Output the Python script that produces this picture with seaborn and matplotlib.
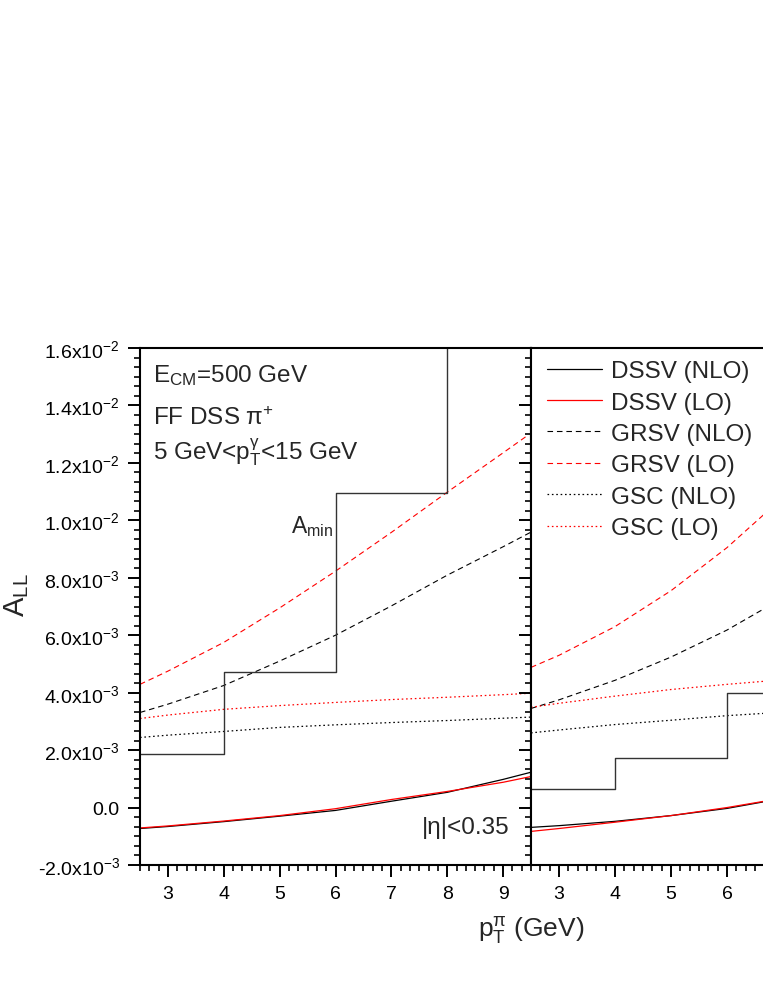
import numpy as np
import seaborn as sns
import matplotlib
matplotlib.use("Agg")
import matplotlib.pyplot as plt
from matplotlib.ticker import FixedLocator, AutoMinorLocator, FuncFormatter

# ---- data (units of 1e-3) ----
x_left = [2.5, 3, 4, 5, 6, 7, 8, 9, 9.5]
dssv_nlo_left = [-0.73, -0.66, -0.49, -0.30, -0.10, 0.22, 0.53, 0.98, 1.23]
dssv_lo_left = [-0.71, -0.64, -0.47, -0.28, -0.04, 0.28, 0.56, 0.88, 1.08]
grsv_nlo_left = [3.31, 3.60, 4.25, 5.10, 6.00, 7.02, 8.09, 9.08, 9.59]
grsv_lo_left = [4.29, 4.75, 5.75, 6.95, 8.23, 9.58, 10.98, 12.35, 13.04]
gsc_nlo_left = [2.44, 2.52, 2.65, 2.79, 2.88, 2.96, 3.03, 3.11, 3.15]
gsc_lo_left = [3.10, 3.22, 3.42, 3.55, 3.66, 3.76, 3.84, 3.93, 3.98]

x_right = [2.5, 3, 4, 5, 6, 7]
dssv_nlo_right = [-0.69, -0.63, -0.48, -0.28, -0.03, 0.32]
dssv_lo_right = [-0.83, -0.73, -0.51, -0.28, 0.00, 0.33]
grsv_nlo_right = [3.45, 3.75, 4.43, 5.24, 6.18, 7.30]
grsv_lo_right = [4.88, 5.30, 6.30, 7.55, 9.05, 10.80]
gsc_nlo_right = [2.60, 2.70, 2.89, 3.04, 3.20, 3.32]
gsc_lo_right = [3.49, 3.63, 3.88, 4.11, 4.29, 4.45]

# A_min step histograms (bin edges, values)
amin_edges = [2.5, 4, 6, 8, 9.5]
amin_left = [1.85, 4.71, 10.95, 20.0, 20.0]
amin_right = [0.66, 1.71, 3.98, 3.98, 3.98]

y_ticks = [-2, 0, 2, 4, 6, 8, 10, 12, 14, 16]
x_ticks = [3, 4, 5, 6, 7, 8, 9]

sns.set_theme(style="ticks")
plt.rcParams['font.family'] = ['Liberation Sans', 'DejaVu Sans']
plt.rcParams['mathtext.fontset'] = 'custom'
plt.rcParams['mathtext.rm'] = 'Liberation Sans'
plt.rcParams['mathtext.it'] = 'Liberation Sans'

fig = plt.figure(figsize=(7.63, 9.87), dpi=100)
# left panel spans 140..531 px; right panel starts at 531 and is cropped at the figure edge
ax_l = fig.add_axes([140 / 763, 121 / 987, 391 / 763, 517 / 987])
ax_r = fig.add_axes([531 / 763, 121 / 987, 232 / 763, 517 / 987])

dash = (0, (5, 3.5))
dot = (0, (1.3, 2.2))


def sci_label(v, pos):
    v = round(v, 8)
    if abs(v) < 1e-9:
        return "0.0"
    e = int(np.floor(np.log10(abs(v)) + 1e-9))
    m = v / 10 ** e
    return f"{m:.1f}x10$^{{\\mathregular{{{e}}}}}$"


def draw(ax, x, dn, dl, gn, gl, sn, sl, hist, xmax):
    s = 1e-3
    sns.lineplot(x=x, y=np.array(dn) * s, ax=ax, color='black', lw=0.9,
                 errorbar=None, label='DSSV (NLO)')
    sns.lineplot(x=x, y=np.array(dl) * s, ax=ax, color='red', lw=0.9,
                 errorbar=None, label='DSSV (LO)')
    sns.lineplot(x=x, y=np.array(gn) * s, ax=ax, color='black', lw=0.8,
                 linestyle=dash, errorbar=None, label='GRSV (NLO)')
    sns.lineplot(x=x, y=np.array(gl) * s, ax=ax, color='red', lw=0.8,
                 linestyle=dash, errorbar=None, label='GRSV (LO)')
    sns.lineplot(x=x, y=np.array(sn) * s, ax=ax, color='black', lw=0.9,
                 linestyle=dot, errorbar=None, label='GSC (NLO)')
    sns.lineplot(x=x, y=np.array(sl) * s, ax=ax, color='red', lw=0.9,
                 linestyle=dot, errorbar=None, label='GSC (LO)')
    sns.lineplot(x=amin_edges, y=np.array(hist) * s, ax=ax, color='#333333',
                 lw=1.0, drawstyle='steps-post', errorbar=None)

    ax.set_xlim(2.5, xmax)
    ax.set_ylim(-2e-3, 1.6e-2)
    ax.xaxis.set_major_locator(FixedLocator(x_ticks))
    ax.xaxis.set_minor_locator(AutoMinorLocator(6))
    ax.yaxis.set_major_locator(FixedLocator(np.array(y_ticks) * 1e-3))
    ax.yaxis.set_minor_locator(AutoMinorLocator(6))
    ax.tick_params(which='major', direction='out', length=8.5, width=1.4,
                   labelsize=14, pad=6, colors='black')
    ax.tick_params(which='minor', direction='out', length=4.5, width=1.4)
    ax.tick_params(top=False, right=False, which='both')
    for sp in ax.spines.values():
        sp.set_linewidth(1.5)
        sp.set_color('black')
    ax.set_xlabel('')
    ax.set_ylabel('')


draw(ax_l, x_left, dssv_nlo_left, dssv_lo_left, grsv_nlo_left, grsv_lo_left,
     gsc_nlo_left, gsc_lo_left, amin_left, 9.5)
draw(ax_r, x_right, dssv_nlo_right, dssv_lo_right, grsv_nlo_right, grsv_lo_right,
     gsc_nlo_right, gsc_lo_right, amin_right, 2.5 + 232 / 56)

ax_l.yaxis.set_major_formatter(FuncFormatter(sci_label))
ax_r.tick_params(axis='y', labelleft=False)
ax_r.spines['right'].set_visible(False)
ax_l.get_legend().remove()

leg = ax_r.legend(loc='upper left', bbox_to_anchor=(547 / 763, 1 - 361 / 987),
                  bbox_transform=fig.transFigure, frameon=False, fontsize=17.5,
                  handlelength=2.26, handletextpad=0.37, labelspacing=0.39,
                  borderpad=0, borderaxespad=0)

# annotations
fs = 17.5
fig.text(153 / 763, 1 - 382 / 987, r'E$_{\mathregular{CM}}$=500 GeV', fontsize=fs,
         va='baseline', ha='left')
fig.text(153 / 763, 1 - 425 / 987, r'FF DSS π$^{\mathregular{+}}$', fontsize=fs,
         va='baseline', ha='left')
fig.text(153 / 763, 1 - 460 / 987,
         r'5 GeV<p$_{\mathregular{T}}^{\mathregular{γ}}$<15 GeV', fontsize=fs,
         va='baseline', ha='left')
fig.text(291 / 763, 1 - 533 / 987, r'A$_{\mathregular{min}}$', fontsize=16.5,
         va='baseline', ha='left')
fig.text(422 / 763, 1 - 834 / 987, '|η|<0.35', fontsize=17.5,
         va='baseline', ha='left')

fig.text(17 / 763, 1 - 595 / 987, r'A$_{\mathregular{LL}}$', fontsize=21,
         rotation=90, va='center', ha='center')
fig.text(531 / 763, 1 - 931 / 987, r'p$_{\mathregular{T}}^{\mathregular{π}}$ (GeV)',
         fontsize=19, va='center', ha='center')

fig.savefig('out.png', dpi=100)
